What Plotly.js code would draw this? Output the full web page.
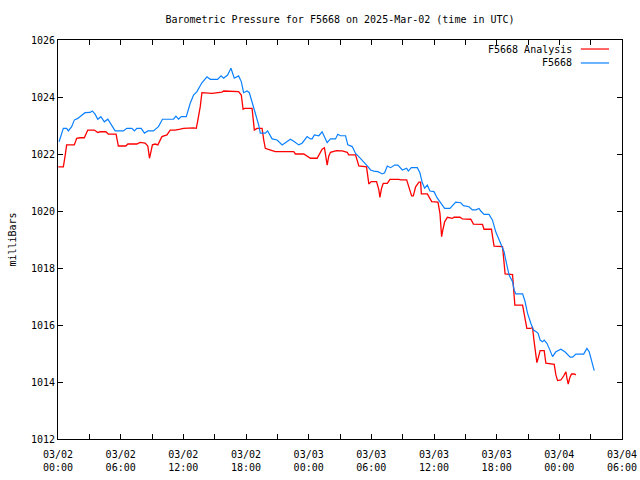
<!DOCTYPE html>
<html>
<head>
<meta charset="utf-8">
<script src="https://cdn.plot.ly/plotly-3.0.1.min.js"></script>
<style>html,body{margin:0;padding:0;background:#fff;}#chart{width:640px;height:480px;}</style>
</head>
<body>
<div id="chart"></div>
<script>
// Hours since 2025-03-02 00:00 UTC
const analysisHours = [0.03,0.51,0.67,0.83,1.56,1.79,2.11,2.52,2.85,3.48,
3.81,4.03,4.58,4.82,5.56,5.78,6.49,6.69,7.55,7.86,
8.34,8.60,8.76,9.04,9.30,9.56,9.95,10.43,10.74,11.22,
11.70,12.02,12.98,13.24,13.36,13.62,13.78,14.74,15.70,15.85,
17.29,17.55,17.72,17.87,18.58,18.67,18.80,19.06,19.54,19.70,
19.85,20.07,20.81,22.57,22.73,23.53,23.79,24.17,24.81,25.06,
25.29,25.51,25.61,25.77,25.93,26.09,26.66,27.21,27.69,27.84,
28.49,28.65,28.80,29.54,29.67,29.76,29.99,30.50,30.72,30.82,
30.98,31.14,31.53,31.78,32.64,32.80,33.38,33.60,33.86,34.02,
34.24,34.56,34.72,34.79,35.36,35.78,36.38,36.57,36.73,36.86,
37.02,37.28,37.76,37.91,38.49,38.72,39.52,39.78,40.64,40.79,
41.50,41.66,41.75,42.56,42.65,42.81,43.52,43.67,43.74,44.48,
44.63,44.79,44.89,45.27,45.43,45.59,45.75,45.85,45.97,46.16,
46.55,46.71,47.51,47.67,47.83,48.15,48.41,48.63,48.73,48.85,
49.01,49.17,49.42,49.59];
const analysisPressure = [1021.55,1021.55,1021.91,1022.32,1022.32,1022.55,1022.57,1022.57,1022.84,1022.84,
1022.75,1022.78,1022.78,1022.70,1022.70,1022.28,1022.28,1022.35,1022.35,1022.41,
1022.38,1022.28,1021.85,1022.32,1022.35,1022.32,1022.61,1022.67,1022.84,1022.84,
1022.87,1022.90,1022.92,1022.90,1023.13,1023.66,1024.15,1024.13,1024.17,1024.21,
1024.19,1024.07,1023.57,1023.60,1023.60,1023.19,1022.84,1022.90,1022.90,1022.49,
1022.20,1022.17,1022.08,1022.08,1022.00,1022.00,1021.93,1021.85,1021.85,1022.02,
1022.17,1022.22,1022.02,1021.61,1021.93,1022.06,1022.12,1022.11,1022.06,1021.97,
1021.97,1021.79,1021.58,1021.55,1021.15,1020.95,1021.03,1021.03,1020.74,1020.48,
1020.80,1020.97,1020.97,1021.11,1021.11,1021.09,1021.09,1020.85,1020.53,1020.53,
1020.85,1021.01,1021.01,1020.60,1020.60,1020.33,1020.31,1019.92,1019.10,1019.36,
1019.62,1019.78,1019.74,1019.78,1019.78,1019.72,1019.71,1019.54,1019.53,1019.36,
1019.36,1018.98,1018.77,1018.75,1018.46,1017.79,1017.77,1017.16,1016.70,1016.70,
1016.41,1016.06,1015.88,1015.88,1015.92,1015.41,1014.89,1014.68,1014.83,1015.10,
1015.10,1014.66,1014.62,1014.25,1014.05,1014.07,1014.21,1014.36,1014.13,1013.93,
1014.16,1014.28,1014.28,1014.25];

const stationHours = [0.10,0.51,0.83,0.99,1.31,1.56,1.89,2.21,2.59,3.07,
3.29,3.55,3.81,4.10,4.44,4.77,5.05,5.47,6.26,6.59,
7.07,7.32,7.55,7.96,8.28,8.60,9.14,9.62,10.00,11.06,
11.29,11.54,11.80,12.28,12.66,12.98,13.30,13.78,14.26,14.58,
15.28,15.61,15.85,16.24,16.56,16.88,17.29,17.55,17.77,18.10,
18.32,18.58,18.89,19.21,19.37,19.85,20.07,20.50,20.98,21.46,
21.87,22.25,22.64,23.05,23.37,23.85,24.17,24.33,24.55,24.97,
25.29,25.77,26.09,26.57,26.79,27.05,27.53,27.75,28.17,28.49,
28.80,29.28,29.61,29.93,30.24,30.63,31.05,31.27,31.53,31.84,
32.23,32.54,32.97,33.38,33.54,33.83,34.40,34.65,34.88,35.10,
35.36,35.61,36.00,36.32,36.64,37.02,37.53,37.76,38.08,38.56,
38.82,39.35,39.68,40.00,40.31,40.48,40.79,41.27,41.60,41.91,
42.39,42.71,42.97,43.19,43.52,43.67,43.83,44.48,44.70,44.96,
45.27,45.53,45.75,45.97,46.16,46.39,46.55,46.81,47.03,47.35,
47.67,48.15,48.53,49.04,49.27,49.59,50.33,50.64,50.86,51.09,51.34];
const stationPressure = [1022.43,1022.90,1022.90,1022.81,1022.96,1023.19,1023.25,1023.33,1023.45,1023.46,
1023.51,1023.40,1023.22,1023.31,1023.13,1023.22,1023.05,1022.81,1022.81,1022.90,
1022.90,1022.81,1022.90,1022.90,1022.73,1022.81,1022.81,1022.96,1023.22,1023.22,
1023.33,1023.22,1023.31,1023.31,1023.78,1024.07,1024.19,1024.50,1024.71,1024.62,
1024.62,1024.74,1024.66,1024.77,1025.01,1024.66,1024.74,1024.54,1024.15,1024.21,
1024.15,1023.78,1023.43,1023.02,1022.73,1022.73,1022.81,1022.53,1022.49,1022.32,
1022.43,1022.52,1022.43,1022.32,1022.38,1022.61,1022.53,1022.53,1022.67,1022.64,
1022.78,1022.40,1022.53,1022.53,1022.69,1022.64,1022.64,1022.32,1022.26,1022.02,
1021.91,1021.73,1021.58,1021.44,1021.40,1021.38,1021.30,1021.34,1021.58,1021.52,
1021.61,1021.61,1021.44,1021.50,1021.40,1021.52,1021.52,1021.34,1020.99,1020.80,
1020.91,1020.70,1020.68,1020.45,1020.27,1020.09,1020.09,1020.18,1020.31,1020.29,
1020.19,1020.15,1020.04,1020.04,1020.09,1020.00,1019.88,1019.88,1019.68,1019.27,
1018.87,1018.57,1018.11,1017.75,1017.52,1017.23,1017.09,1017.09,1016.85,1016.41,
1016.06,1015.82,1015.77,1015.71,1015.47,1015.41,1015.47,1015.36,1015.18,1014.89,
1015.06,1015.15,1015.06,1014.87,1014.87,1014.98,1014.98,1015.18,1015.06,1014.71,1014.40];

const xTickHours = [0,6,12,18,24,30,36,42,48,54];
const xTickLabels = ["03/02<br>00:00","03/02<br>06:00","03/02<br>12:00","03/02<br>18:00",
  "03/03<br>00:00","03/03<br>06:00","03/03<br>12:00","03/03<br>18:00",
  "03/04<br>00:00","03/04<br>06:00"];
const seriesNames = ["F5668 Analysis","F5668"];
const seriesColors = ["#ff0000","#0a80ff"];

const FONT = "DejaVu Sans Mono, Liberation Mono, monospace";
const FS = 10;

const traces = [
  {x: analysisHours, y: analysisPressure, type: 'scatter', mode: 'lines', name: seriesNames[0],
   line: {color: seriesColors[0], width: 1.3}, showlegend: false},
  {x: stationHours, y: stationPressure, type: 'scatter', mode: 'lines', name: seriesNames[1],
   line: {color: seriesColors[1], width: 1.2}, showlegend: false}
];

const legendY = [0.9774, 0.9424];
const annotations = seriesNames.map((n, i) => ({
  xref: 'paper', yref: 'paper', x: 0.915, y: legendY[i], xanchor: 'right', yanchor: 'middle',
  text: n, showarrow: false, font: {family: FONT, size: FS, color: '#000'}
}));
const shapes = seriesColors.map((c, i) => ({
  type: 'line', xref: 'paper', yref: 'paper', x0: 0.927, x1: 0.977, y0: legendY[i], y1: legendY[i],
  line: {color: c, width: 1.2}
}));

const layout = {
  width: 640, height: 480,
  margin: {l: 58, r: 18, t: 40, b: 41},
  paper_bgcolor: '#fff', plot_bgcolor: '#fff',
  font: {family: FONT, size: FS, color: '#000'},
  title: {text: 'Barometric Pressure for F5668 on 2025-Mar-02 (time in UTC)',
          xref: 'paper', x: 0.5, xanchor: 'center', yref: 'container', y: 0.96, yanchor: 'middle',
          font: {family: FONT, size: FS, color: '#000'}},
  xaxis: {
    range: [0, 54], tickmode: 'array', tickvals: xTickHours, ticktext: xTickLabels,
    ticks: 'inside', ticklen: 5, tickcolor: '#000', tickwidth: 1, ticklabelstandoff: 6,
    minor: {tickmode: 'linear', tick0: 0, dtick: 3, ticks: 'inside', ticklen: 5, tickcolor: '#000', showgrid: false},
    showline: true, linecolor: '#000', linewidth: 1, mirror: 'ticks',
    showgrid: false, zeroline: false, fixedrange: true,
    tickfont: {family: FONT, size: FS, color: '#000'}
  },
  yaxis: {
    range: [1012, 1026], dtick: 2, tick0: 1012, tickformat: 'd',
    ticks: 'inside', ticklen: 5, tickcolor: '#000', tickwidth: 1,
    showline: true, linecolor: '#000', linewidth: 1, mirror: 'ticks',
    showgrid: false, zeroline: false, fixedrange: true,
    tickfont: {family: FONT, size: FS, color: '#000'},
    title: {text: 'milliBars', standoff: 12, font: {family: FONT, size: FS, color: '#000'}}
  },
  showlegend: false,
  annotations: annotations,
  shapes: shapes
};

Plotly.newPlot('chart', traces, layout, {displayModeBar: false, staticPlot: true});
</script>
</body>
</html>
